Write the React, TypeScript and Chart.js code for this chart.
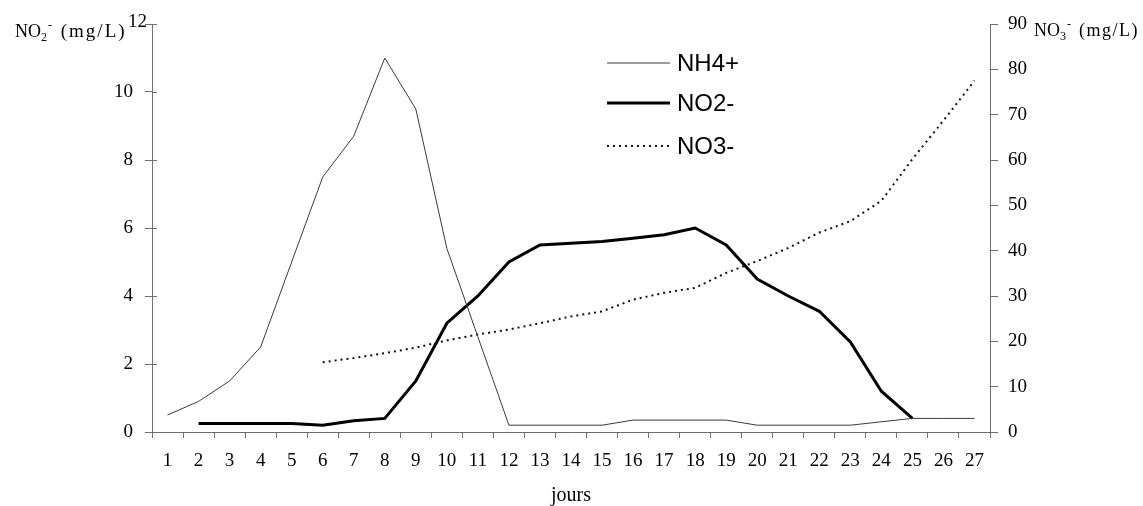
import React, { useEffect, useRef } from "react";
import { Chart, registerables } from "chart.js";

Chart.register(...registerables);

const days = ["1","2","3","4","5","6","7","8","9","10","11","12","13","14","15","16","17","18","19","20","21","22","23","24","25","26","27"];
const nh4 = [0.5, 0.9, 1.5, 2.5, 5.0, 7.5, 8.7, 11.0, 9.5, 5.4, 2.8, 0.2, 0.2, 0.2, 0.2, 0.35, 0.35, 0.35, 0.35, 0.2, 0.2, 0.2, 0.2, 0.3, 0.4, 0.4, 0.4];
const no2 = [null, 0.25, 0.25, 0.25, 0.25, 0.2, 0.33, 0.4, 1.5, 3.2, 4.0, 5.0, 5.5, 5.55, 5.6, 5.7, 5.8, 6.0, 5.5, 4.5, 4.0, 3.55, 2.65, 1.2, 0.4, null, null];
const no3 = [null, null, null, null, null, 15.4, 16.3, 17.4, 18.6, 20.2, 21.5, 22.6, 24.0, 25.5, 26.6, 29.2, 30.7, 31.8, 35.1, 37.7, 40.6, 44.0, 46.5, 51.0, 60.2, 68.7, 77.5];
const seriesLabels = ["NH4+", "NO2-", "NO3-"];
const xTitle = "jours";
const leftMax = 12;
const rightMax = 90;

const SERIF = "'Liberation Serif', 'Times New Roman', serif";
const SANS = "'Liberation Sans', Arial, sans-serif";
const AXIS = "#6e6e6e";

type Seg = { t: string; size: number; dy: number; dx?: number; ls?: number };

function drawSegs(ctx: CanvasRenderingContext2D, x: number, y: number, segs: Seg[]) {
  let cx = x;
  for (const s of segs) {
    ctx.font = `${s.size}px ${SERIF}`;
    (ctx as any).letterSpacing = `${s.ls || 0}px`;
    cx += s.dx || 0;
    ctx.fillText(s.t, cx, y + s.dy);
    cx += ctx.measureText(s.t).width;
  }
  (ctx as any).letterSpacing = "0px";
}

const annotations = {
  id: "annotations",
  afterDraw(chart: any) {
    const ctx: CanvasRenderingContext2D = chart.ctx;
    const area = chart.chartArea;
    ctx.save();
    // inner half of left-axis ticks
    const yl = chart.scales.y;
    ctx.strokeStyle = AXIS;
    ctx.lineWidth = 1;
    yl.ticks.forEach((t: any) => {
      const py = Math.round(yl.getPixelForValue(t.value)) + 0.5;
      ctx.beginPath();
      ctx.moveTo(area.left, py);
      ctx.lineTo(area.left + 5, py);
      ctx.stroke();
    });
    // top left tick label, nudged next to the axis title as in the original
    ctx.fillStyle = "#000";
    ctx.font = `19px ${SERIF}`;
    ctx.textAlign = "right";
    ctx.textBaseline = "middle";
    ctx.fillText(String(leftMax), area.left - 5, yl.getPixelForValue(leftMax) - 2);
    // axis titles
    ctx.textBaseline = "alphabetic";
    ctx.textAlign = "left";
    drawSegs(ctx, 15, 37, [
      { t: "NO", size: 18, dy: 0 },
      { t: "2", size: 12, dy: 4 },
      { t: "-", size: 12, dy: -8, dx: 1 },
      { t: " (mg/L)", size: 19, dy: 0, dx: 2, ls: 2 },
    ]);
    drawSegs(ctx, 1034, 36, [
      { t: "NO", size: 18, dy: 0 },
      { t: "3", size: 12, dy: 4 },
      { t: "-", size: 12, dy: -8, dx: 1 },
      { t: " (mg/L)", size: 18, dy: 0, dx: 2, ls: 1.5 },
    ]);
    ctx.font = `20px ${SERIF}`;
    ctx.textAlign = "center";
    ctx.textBaseline = "middle";
    ctx.fillText(xTitle, (area.left + area.right) / 2, 496);
    // legend
    const ds = chart.data.datasets;
    const lx0 = 607, lx1 = 670, tx = 677;
    const ys = [63, 103, 146];
    ds.forEach((d: any, i: number) => {
      ctx.save();
      ctx.strokeStyle = d.borderColor;
      ctx.lineWidth = d.borderWidth;
      ctx.setLineDash(d.borderDash || []);
      ctx.beginPath();
      ctx.moveTo(lx0, ys[i]);
      ctx.lineTo(lx1, ys[i]);
      ctx.stroke();
      ctx.restore();
      ctx.font = `24px ${SANS}`;
      ctx.fillStyle = "#000";
      ctx.textAlign = "left";
      ctx.textBaseline = "middle";
      ctx.fillText(d.label, tx, ys[i] + 1);
    });
    ctx.restore();
  },
};

export default function App() {
  const ref = useRef<HTMLCanvasElement | null>(null);
  useEffect(() => {
    if (!ref.current) return;
    const chart = new Chart(ref.current, {
      type: "line",
      data: {
        labels: days,
        datasets: [
          { label: seriesLabels[0], data: nh4, borderColor: "#3a3a3a", borderWidth: 1, pointRadius: 0, yAxisID: "y", tension: 0 },
          { label: seriesLabels[1], data: no2, borderColor: "#000000", borderWidth: 3, pointRadius: 0, yAxisID: "y", tension: 0 },
          { label: seriesLabels[2], data: no3, borderColor: "#111111", borderWidth: 2, borderDash: [2, 4], pointRadius: 0, yAxisID: "y1", tension: 0 },
        ],
      },
      options: {
        responsive: false,
        animation: false,
        layout: { padding: { top: 24, left: 0, right: 0, bottom: 0 } },
        plugins: { legend: { display: false }, tooltip: { enabled: false } },
        scales: {
          x: {
            type: "category",
            offset: true,
            grid: { display: true, drawOnChartArea: false, drawTicks: true, tickLength: 6, offset: true, color: AXIS },
            border: { display: true, color: AXIS, width: 1 },
            ticks: { color: "#000", font: { family: SERIF, size: 19 }, padding: 12, maxRotation: 0, autoSkip: false },
            afterFit: (s: any) => { s.height = 74; },
          },
          y: {
            position: "left",
            min: 0,
            max: leftMax,
            grid: { display: true, drawOnChartArea: false, drawTicks: true, tickLength: 7, color: AXIS },
            border: { display: true, color: AXIS, width: 1 },
            ticks: {
              stepSize: 2,
              color: "#000",
              font: { family: SERIF, size: 19 },
              padding: 12,
              callback: (v: any) => (v === leftMax ? "" : String(v)),
            },
            afterFit: (s: any) => { s.width = 152; },
          },
          y1: {
            position: "right",
            min: 0,
            max: rightMax,
            grid: { display: true, drawOnChartArea: false, drawTicks: true, tickLength: 8, color: AXIS },
            border: { display: true, color: AXIS, width: 1 },
            ticks: { stepSize: 10, color: "#000", font: { family: SERIF, size: 19 }, padding: 10 },
            afterFit: (s: any) => { s.width = 153; },
          },
        },
      },
      plugins: [annotations],
    } as any);
    return () => chart.destroy();
  }, []);
  return (
    <div style={{ position: "fixed", left: 0, top: 0, width: 1143, height: 506, background: "#fff" }}>
      <canvas ref={ref} width={1143} height={506} style={{ display: "block" }} />
    </div>
  );
}
